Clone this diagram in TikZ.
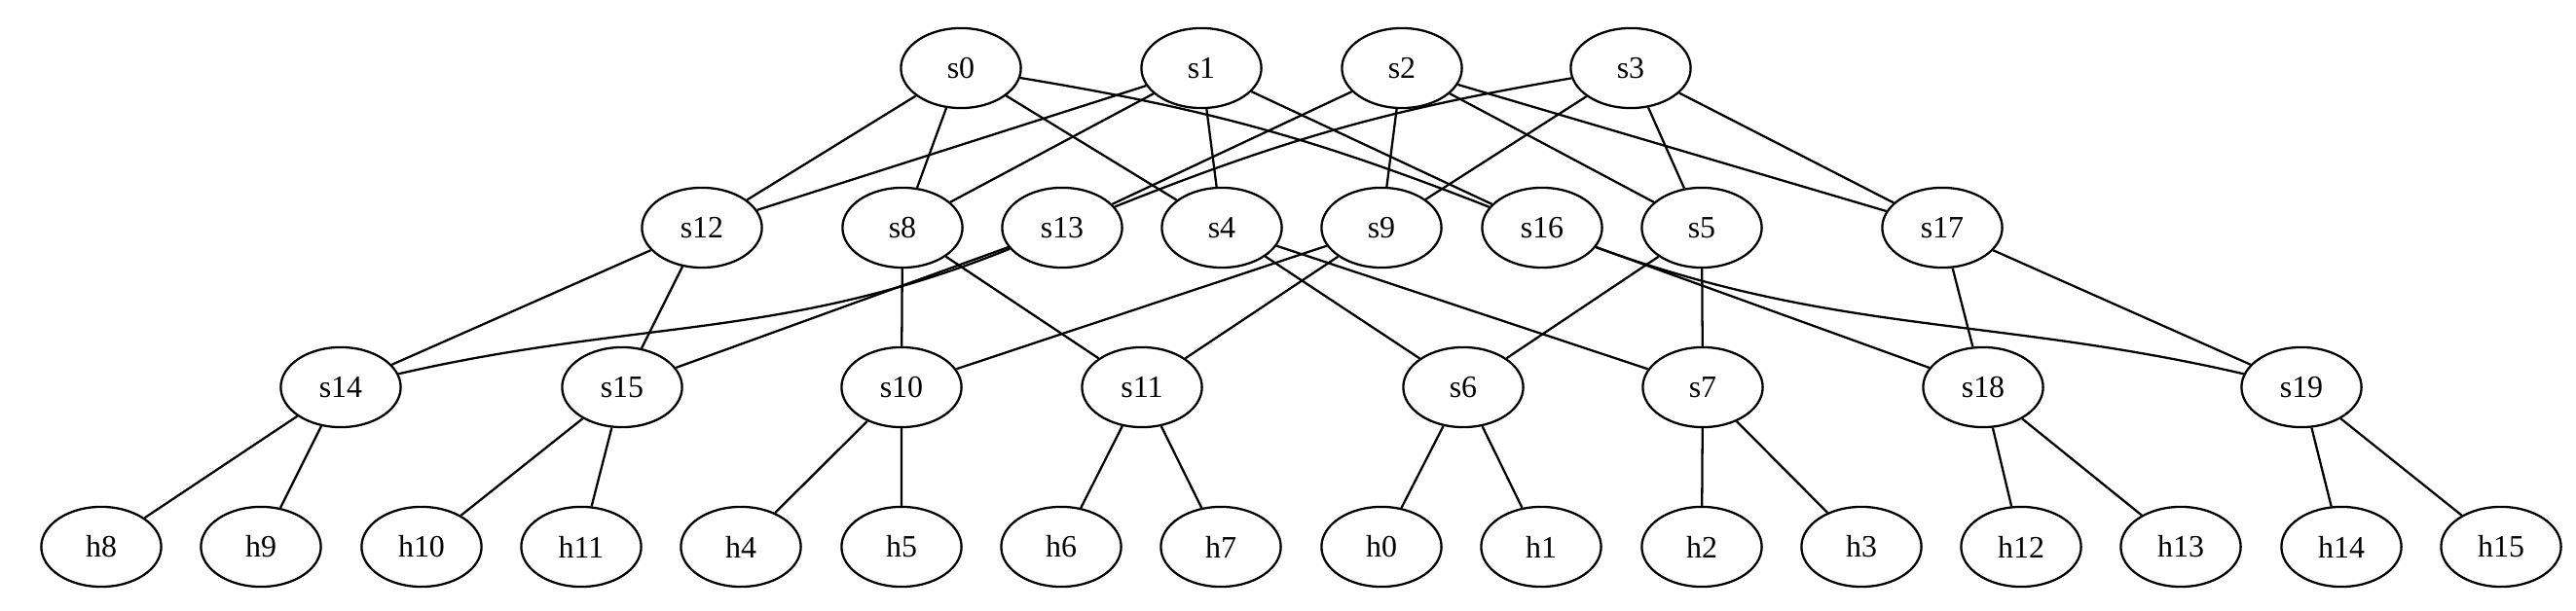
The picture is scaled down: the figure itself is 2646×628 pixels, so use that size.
\documentclass[tikz,border=0pt]{standalone}
\usepackage{fontspec}
\setmainfont{Liberation Serif}
\usetikzlibrary{shapes.geometric}
\tikzset{sw/.style={draw,ellipse,minimum width=54pt,minimum height=36pt,inner sep=0pt,font=\fontsize{14}{16}\selectfont}}
\begin{document}
\begin{tikzpicture}[x=0.43822pt,y=0.43822pt,line width=1pt]
	    \useasboundingbox (0,0) rectangle (2646,628);
	    % core
	    \node[sw](s0) at (987,558) {s0};
	    \node[sw](s1) at (1234,558) {s1};
	    \node[sw](s2) at (1440,558) {s2};
	    \node[sw](s3) at (1675,558) {s3};
	    % aggregation
	    \node[sw](s12) at (721,394) {s12};
	    \node[sw](s8) at (927,394) {s8};
	    \node[sw](s13) at (1091,394) {s13};
	    \node[sw](s4) at (1255,394) {s4};
	    \node[sw](s9) at (1419,394) {s9};
	    \node[sw](s16) at (1584,394) {s16};
	    \node[sw](s5) at (1748,394) {s5};
	    \node[sw](s17) at (1995,394) {s17};
	    % edge
	    \node[sw](s14) at (350,230) {s14};
	    \node[sw](s15) at (639,230) {s15};
	    \node[sw](s10) at (926,230) {s10};
	    \node[sw](s11) at (1173,230) {s11};
	    \node[sw](s6) at (1503,230) {s6};
	    \node[sw](s7) at (1749,230) {s7};
	    \node[sw](s18) at (2037,230) {s18};
	    \node[sw](s19) at (2364,230) {s19};
	    % hosts
	    \node[sw](h8) at (104,66) {h8};
	    \node[sw](h9) at (268,66) {h9};
	    \node[sw](h10) at (433,66) {h10};
	    \node[sw](h11) at (597,66) {h11};
	    \node[sw](h4) at (761,66) {h4};
	    \node[sw](h5) at (926,66) {h5};
	    \node[sw](h6) at (1090,66) {h6};
	    \node[sw](h7) at (1254,66) {h7};
	    \node[sw](h0) at (1419,66) {h0};
	    \node[sw](h1) at (1583,66) {h1};
	    \node[sw](h2) at (1748,66) {h2};
	    \node[sw](h3) at (1912,66) {h3};
	    \node[sw](h12) at (2076,66) {h12};
	    \node[sw](h13) at (2240,66) {h13};
	    \node[sw](h14) at (2405,66) {h14};
	    \node[sw](h15) at (2569,66) {h15};
	    % core links
	    \draw(s0)--(s12) (s0)--(s8) (s0)--(s4);
	    \draw(s0) to[bend left=6] (s16);
	    \draw(s1)--(s12) (s1)--(s8) (s1)--(s4) (s1)--(s16);
	    \draw(s2)--(s13) (s2)--(s9) (s2)--(s5) (s2)--(s17);
	    \draw(s3) to[bend right=6] (s13);
	    \draw(s3)--(s9) (s3)--(s5) (s3)--(s17);
	    % aggregation links
	    \draw(s12)--(s14) (s12)--(s15);
	    \draw(s8)--(s10) (s8)--(s11);
	    \draw(s13) to[out=202,in=13] (s14);
	    \draw(s13)--(s15);
	    \draw(s4)--(s6) (s4)--(s7);
	    \draw(s9)--(s10) (s9)--(s11);
	    \draw(s16)--(s18);
	    \draw(s16) to[out=-20,in=167] (s19);
	    \draw(s5)--(s6) (s5)--(s7);
	    \draw(s17)--(s18) (s17)--(s19);
	    % host links
	    \draw(s14)--(h8) (s14)--(h9) (s15)--(h10) (s15)--(h11);
	    \draw(s10)--(h4) (s10)--(h5) (s11)--(h6) (s11)--(h7);
	    \draw(s6)--(h0) (s6)--(h1) (s7)--(h2) (s7)--(h3);
	    \draw(s18)--(h12) (s18)--(h13) (s19)--(h14) (s19)--(h15);
\end{tikzpicture}
\end{document}
